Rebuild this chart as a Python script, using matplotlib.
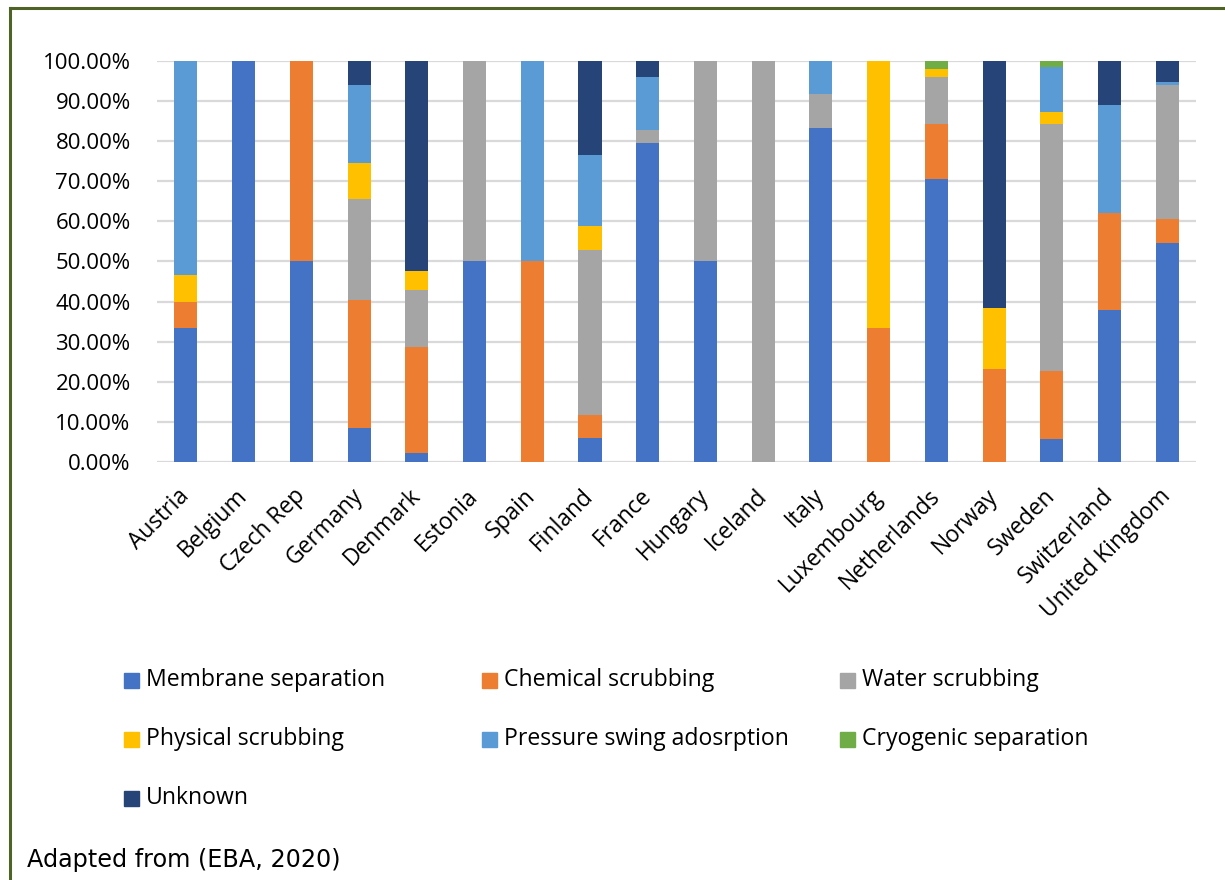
import matplotlib.pyplot as plt
import numpy as np
from matplotlib.lines import Line2D
from matplotlib.patches import Rectangle

countries = [
    "Austria", "Belgium", "Czech Rep", "Germany", "Denmark", "Estonia",
    "Spain", "Finland", "France", "Hungary", "Iceland", "Italy",
    "Luxembourg", "Netherlands", "Norway", "Sweden", "Switzerland",
    "United Kingdom",
]
# shares in percent, one list per upgrading technology
membrane = [33.33, 100, 50, 8.5, 2.2, 50, 0, 5.88, 79.6, 50, 0, 83.33, 0, 70.5, 0, 5.7, 37.8, 54.5]
chemical = [6.67, 0, 50, 32.0, 26.4, 0, 50, 5.88, 0, 0, 0, 0, 33.33, 13.7, 23.1, 17.1, 24.3, 6.0]
water = [0, 0, 0, 25.0, 14.2, 50, 0, 41.18, 3.1, 50, 100, 8.33, 0, 11.8, 0, 61.5, 0, 33.4]
physical = [6.67, 0, 0, 9.0, 4.8, 0, 0, 5.88, 0, 0, 0, 0, 66.67, 2.0, 15.4, 2.9, 0, 0]
psa = [53.33, 0, 0, 19.4, 0, 0, 50, 17.65, 13.2, 0, 0, 8.33, 0, 0, 0, 11.4, 27.0, 0.9]
cryogenic = [0, 0, 0, 0, 0, 0, 0, 0, 0, 0, 0, 0, 0, 2.0, 0, 1.4, 0, 0]
unknown = [0, 0, 0, 6.1, 52.4, 0, 0, 23.53, 4.1, 0, 0, 0, 0, 0, 61.5, 0, 10.9, 5.2]

series_names = [
    "Membrane separation", "Chemical scrubbing", "Water scrubbing",
    "Physical scrubbing", "Pressure swing adosrption", "Cryogenic separation",
    "Unknown",
]
series_colors = ["#4472C4", "#ED7D31", "#A5A5A5", "#FFC000", "#5B9BD5", "#70AD47", "#264478"]

font_main = "Open Sans"
font_size = 16
legend_size = 16.6
grid_color = "#D9D9D9"
border_color = "#4F6228"

fig = plt.figure(figsize=(12.25, 8.8), dpi=100, facecolor="white")
ax = fig.add_axes([0.1282, 0.475, 0.8482, 0.4557])

x = np.arange(len(countries))
bottom = np.zeros(len(countries))
series = [membrane, chemical, water, physical, psa, cryogenic, unknown]
for name, vals, col in zip(series_names, series, series_colors):
    vals = np.array(vals) / 100.0
    ax.bar(x, vals, width=0.4, bottom=bottom, color=col, label=name, zorder=3)
    bottom += vals

ax.set_xlim(-0.5, len(countries) - 0.5)
ax.set_ylim(0, 1)
ax.set_yticks(np.arange(0, 1.01, 0.1))
ax.set_yticklabels([f"{v * 100:.2f}%" for v in np.arange(0, 1.01, 0.1)],
                   fontsize=font_size, family=font_main)
ax.set_xticks(x)
ax.set_xticklabels(countries, rotation=45, ha="right", va="center",
                   rotation_mode="anchor", fontsize=16.4, family=font_main)
ax.tick_params(axis="y", length=0, pad=19)
ax.tick_params(axis="x", length=0, pad=22)
ax.yaxis.grid(True, color=grid_color, linewidth=1.6, zorder=0)
for s in ["top", "right", "left", "bottom"]:
    ax.spines[s].set_visible(False)

# legend, drawn in Excel's fixed-width column grid
leg_x0, leg_step = 124 / 1225, 358 / 1225
leg_rows = [680 / 880, 739 / 880, 798 / 880]
sq_w, sq_h = 15 / 1225, 15 / 880
for i, (name, col) in enumerate(zip(series_names, series_colors)):
    lx = leg_x0 + (i % 3) * leg_step
    ly = 1 - leg_rows[i // 3]
    fig.add_artist(Rectangle((lx, ly - sq_h / 2), sq_w, sq_h, color=col,
                             transform=fig.transFigure))
    fig.text(lx + 22 / 1225, ly, name, fontsize=legend_size, family=font_main,
             va="center", ha="left")

fig.text(27 / 1225, 1 - 860 / 880, "Adapted from (EBA, 2020)", fontsize=17.2,
         family="DejaVu Sans", va="center", ha="left")

# green frame (left and top edges visible)
fig.add_artist(Line2D([10 / 1225, 10 / 1225], [0, 1 - 8 / 880], color=border_color,
                      linewidth=2.2, transform=fig.transFigure))
fig.add_artist(Line2D([10 / 1225, 1], [1 - 8 / 880, 1 - 8 / 880], color=border_color,
                      linewidth=2.2, transform=fig.transFigure))

fig.savefig("out.png", dpi=100)
plt.close(fig)
